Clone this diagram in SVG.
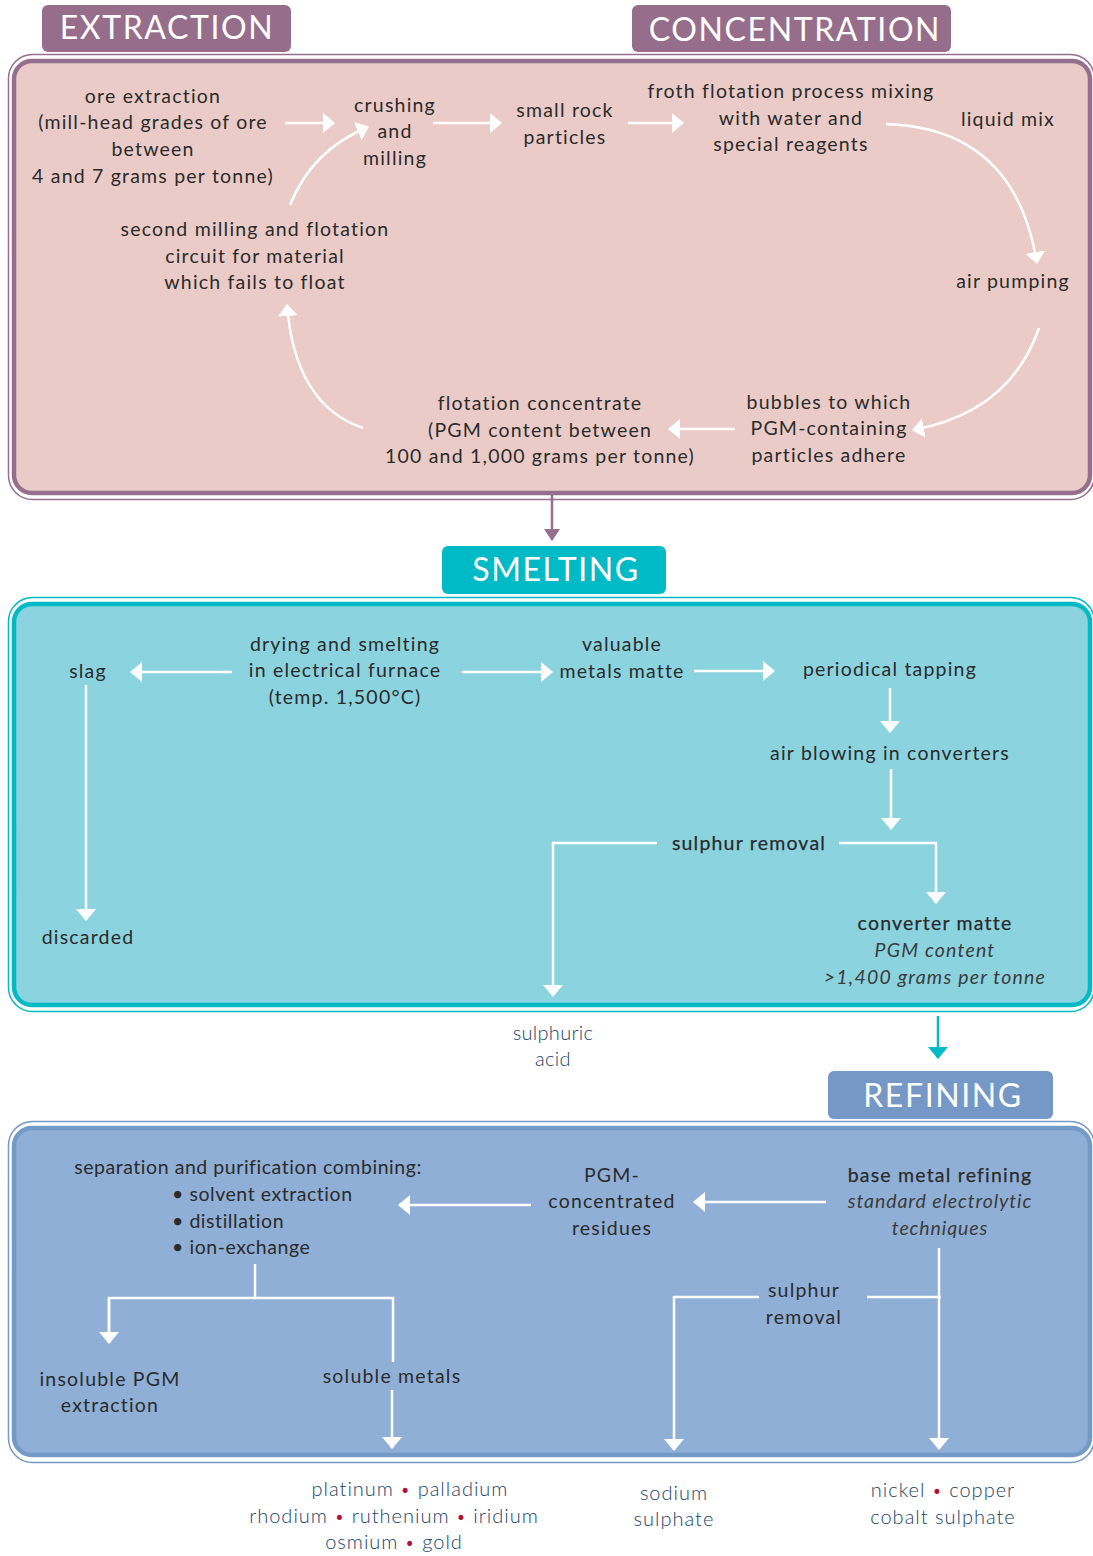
<svg xmlns="http://www.w3.org/2000/svg" width="1093" height="1556" viewBox="0 0 1093 1556">
<defs>
<style>
.t{font-family:Lato,"Open Sans","DejaVu Sans",sans-serif;font-size:19.5px;fill:#2b2b2b;text-anchor:middle;letter-spacing:1.2px}
.n{letter-spacing:0.55px}
.b{stroke:#2b2b2b;stroke-width:0.25px}
.i{font-style:italic;fill:#3c3c3c}
.ii{letter-spacing:0.9px}
.o{font-family:Lato,"Open Sans","DejaVu Sans",sans-serif;font-size:20px;fill:#22426c;text-anchor:middle;letter-spacing:1px;font-weight:300}
.red{fill:#b0113a;font-weight:300;font-size:17px}
.tab{font-family:Lato,"Open Sans","DejaVu Sans",sans-serif;font-size:32px;fill:#ffffff;text-anchor:middle;letter-spacing:1.6px}
.w{fill:none;stroke:#ffffff;stroke-width:2.5}
</style>
<marker id="ah" viewBox="0 0 12 20" refX="11" refY="10" markerWidth="12" markerHeight="20" markerUnits="userSpaceOnUse" orient="auto">
<path d="M0,0 L12,10 L0,20 Z" fill="#ffffff"/>
</marker>
<marker id="ahp" viewBox="0 0 12 16" refX="11" refY="8" markerWidth="12" markerHeight="16" markerUnits="userSpaceOnUse" orient="auto">
<path d="M0,0 L12,8 L0,16 Z" fill="#976f8e"/>
</marker>
<marker id="aht" viewBox="0 0 12 20" refX="11" refY="10" markerWidth="12" markerHeight="20" markerUnits="userSpaceOnUse" orient="auto">
<path d="M0,0 L12,10 L0,20 Z" fill="#00bac6"/>
</marker>
</defs>
<rect width="1093" height="1556" fill="#ffffff"/>

<!-- Panels -->
<g id="panel-extraction">
<rect x="8.5" y="54.5" width="1086" height="445" rx="24" fill="#ffffff" stroke="#976f8e" stroke-width="1.5"/>
<rect x="14" y="61" width="1076" height="432" rx="18" fill="#eacbc8" stroke="#976f8e" stroke-width="4.5"/>
</g>
<g id="panel-smelting">
<rect x="8.5" y="597.5" width="1086" height="414" rx="24" fill="#ffffff" stroke="#00bac6" stroke-width="1.5"/>
<rect x="14" y="604" width="1076" height="401" rx="18" fill="#8ad3df" stroke="#00bac6" stroke-width="4.5"/>
</g>
<g id="panel-refining">
<rect x="8.5" y="1121.5" width="1086" height="341" rx="24" fill="#ffffff" stroke="#7399c6" stroke-width="1.5"/>
<rect x="14" y="1128" width="1076" height="327" rx="18" fill="#8fafd6" stroke="#7399c6" stroke-width="4.5"/>
</g>

<!-- Tabs -->
<g id="tab-extraction">
<rect x="42" y="5" width="249" height="47" rx="6" fill="#966e8b"/>
<text class="tab" x="167" y="39">EXTRACTION</text>
</g>
<g id="tab-concentration">
<rect x="632" y="5" width="319" height="47" rx="6" fill="#966e8b"/>
<text class="tab" x="795" y="41">CONCENTRATION</text>
</g>
<g id="tab-smelting">
<rect x="442" y="546" width="224" height="48" rx="6" fill="#00bac6"/>
<text class="tab" x="556" y="581">SMELTING</text>
</g>
<g id="tab-refining">
<rect x="828" y="1071" width="225" height="48" rx="6" fill="#7598c6"/>
<text class="tab" x="943" y="1107">REFINING</text>
</g>

<!-- Connectors -->
<g id="connectors">
<line x1="552" y1="495" x2="552" y2="540" stroke="#976f8e" stroke-width="2.5" marker-end="url(#ahp)"/>
<line x1="938" y1="1016" x2="938" y2="1058" stroke="#00bac6" stroke-width="2.5" marker-end="url(#aht)"/>

<line class="w" x1="285" y1="123" x2="334" y2="123" marker-end="url(#ah)"/>
<line class="w" x1="433" y1="123" x2="501" y2="123" marker-end="url(#ah)"/>
<line class="w" x1="628" y1="123" x2="683" y2="123" marker-end="url(#ah)"/>
<path class="w" d="M886,124 Q1015,128 1037,263" marker-end="url(#ah)"/>
<path class="w" d="M1039,328 Q1010,412 913,430" marker-end="url(#ah)"/>
<line class="w" x1="735" y1="429" x2="669" y2="429" marker-end="url(#ah)"/>
<path class="w" d="M363,428 Q295,405 287,305" marker-end="url(#ah)"/>
<path class="w" d="M290,205 Q312,150 368,127" marker-end="url(#ah)"/>

<line class="w" x1="232" y1="672" x2="131" y2="672" marker-end="url(#ah)"/>
<line class="w" x1="86" y1="685" x2="86" y2="920" marker-end="url(#ah)"/>
<line class="w" x1="462" y1="672" x2="552" y2="672" marker-end="url(#ah)"/>
<line class="w" x1="694" y1="671" x2="774" y2="671" marker-end="url(#ah)"/>
<line class="w" x1="890" y1="688" x2="890" y2="732" marker-end="url(#ah)"/>
<line class="w" x1="891" y1="769" x2="891" y2="829" marker-end="url(#ah)"/>
<path class="w" d="M657,843 H553 V996" marker-end="url(#ah)"/>
<path class="w" d="M839,843 H936 V903" marker-end="url(#ah)"/>

<line class="w" x1="531" y1="1205" x2="399" y2="1205" marker-end="url(#ah)"/>
<line class="w" x1="826" y1="1202" x2="694" y2="1202" marker-end="url(#ah)"/>
<line class="w" x1="939" y1="1248" x2="939" y2="1449" marker-end="url(#ah)"/>
<line class="w" x1="867" y1="1297" x2="941" y2="1297"/>
<path class="w" d="M759,1297 H674 V1450" marker-end="url(#ah)"/>
<line class="w" x1="255" y1="1264" x2="255" y2="1298"/>
<path class="w" d="M109,1343 V1298 H393 V1362"/>
<line class="w" x1="109" y1="1298" x2="109" y2="1343" marker-end="url(#ah)"/>
<line class="w" x1="392" y1="1390" x2="392" y2="1448" marker-end="url(#ah)"/>
</g>

<!-- Extraction / concentration nodes -->
<g id="n-ore">
<text class="t" x="153" y="103">ore extraction</text>
<text class="t" x="153" y="129">(mill-head grades of ore</text>
<text class="t" x="153" y="156">between</text>
<text class="t" x="153" y="183">4 and 7 grams per tonne)</text>
</g>
<g id="n-crushing">
<text class="t" x="395" y="112">crushing</text>
<text class="t" x="395" y="138">and</text>
<text class="t" x="395" y="165">milling</text>
</g>
<g id="n-rock">
<text class="t" x="565" y="117">small rock</text>
<text class="t" x="565" y="144">particles</text>
</g>
<g id="n-froth">
<text class="t" x="791" y="98">froth flotation process mixing</text>
<text class="t" x="791" y="125">with water and</text>
<text class="t" x="791" y="151">special reagents</text>
</g>
<g id="n-liquid"><text class="t" x="1008" y="126">liquid mix</text></g>
<g id="n-air"><text class="t" x="1013" y="288">air pumping</text></g>
<g id="n-bubbles">
<text class="t" x="829" y="409">bubbles to which</text>
<text class="t" x="829" y="435">PGM-containing</text>
<text class="t" x="829" y="462">particles adhere</text>
</g>
<g id="n-concentrate">
<text class="t" x="540" y="410">flotation concentrate</text>
<text class="t" x="540" y="437">(PGM content between</text>
<text class="t" x="540" y="463">100 and 1,000 grams per tonne)</text>
</g>
<g id="n-second">
<text class="t" x="255" y="236">second milling and flotation</text>
<text class="t" x="255" y="263">circuit for material</text>
<text class="t" x="255" y="289">which fails to float</text>
</g>

<!-- Smelting nodes -->
<g id="n-drying">
<text class="t" x="345" y="651">drying and smelting</text>
<text class="t" x="345" y="677">in electrical furnace</text>
<text class="t" x="345" y="704">(temp. 1,500°C)</text>
</g>
<g id="n-slag"><text class="t" x="88" y="678">slag</text></g>
<g id="n-discarded"><text class="t" x="88" y="944">discarded</text></g>
<g id="n-valuable">
<text class="t" x="622" y="651">valuable</text>
<text class="t" x="622" y="678">metals matte</text>
</g>
<g id="n-tapping"><text class="t" x="890" y="676">periodical tapping</text></g>
<g id="n-blowing"><text class="t" x="890" y="760">air blowing in converters</text></g>
<g id="n-sulphur1"><text class="t b" x="749" y="850">sulphur removal</text></g>
<g id="n-converter">
<text class="t b" x="935" y="930">converter matte</text>
<text class="t i" x="935" y="957">PGM content</text>
<text class="t i" x="935" y="984">&gt;1,400 grams per tonne</text>
</g>
<g id="n-acid">
<text class="o" x="553" y="1040" style="letter-spacing:0.3px">sulphuric</text>
<text class="o" x="553" y="1066" style="letter-spacing:0.3px">acid</text>
</g>

<!-- Refining nodes -->
<g id="n-separation">
<text class="t n" x="248" y="1174">separation and purification combining:</text>
<text class="t n" x="172" y="1201" style="text-anchor:start">• solvent extraction</text>
<text class="t n" x="172" y="1228" style="text-anchor:start">• distillation</text>
<text class="t n" x="172" y="1254" style="text-anchor:start">• ion-exchange</text>
</g>
<g id="n-pgmres">
<text class="t" x="612" y="1182">PGM-</text>
<text class="t" x="612" y="1208">concentrated</text>
<text class="t" x="612" y="1235">residues</text>
</g>
<g id="n-base">
<text class="t b" x="940" y="1182">base metal refining</text>
<text class="t i ii" x="940" y="1208">standard electrolytic</text>
<text class="t i ii" x="940" y="1235">techniques</text>
</g>
<g id="n-sulphur2">
<text class="t" x="804" y="1297">sulphur</text>
<text class="t" x="804" y="1324">removal</text>
</g>
<g id="n-insoluble">
<text class="t" x="110" y="1386">insoluble PGM</text>
<text class="t" x="110" y="1412">extraction</text>
</g>
<g id="n-soluble"><text class="t" x="392" y="1383">soluble metals</text></g>
<g id="n-metals">
<text class="o" x="410" y="1496">platinum  <tspan class="red">•</tspan>  palladium</text>
<text class="o" x="394" y="1523">rhodium  <tspan class="red">•</tspan>  ruthenium  <tspan class="red">•</tspan>  iridium</text>
<text class="o" x="394" y="1549">osmium  <tspan class="red">•</tspan>  gold</text>
</g>
<g id="n-sodium">
<text class="o" x="674" y="1500">sodium</text>
<text class="o" x="674" y="1526">sulphate</text>
</g>
<g id="n-nickel">
<text class="o" x="943" y="1497">nickel  <tspan class="red">•</tspan>  copper</text>
<text class="o" x="943" y="1524">cobalt sulphate</text>
</g>
</svg>
